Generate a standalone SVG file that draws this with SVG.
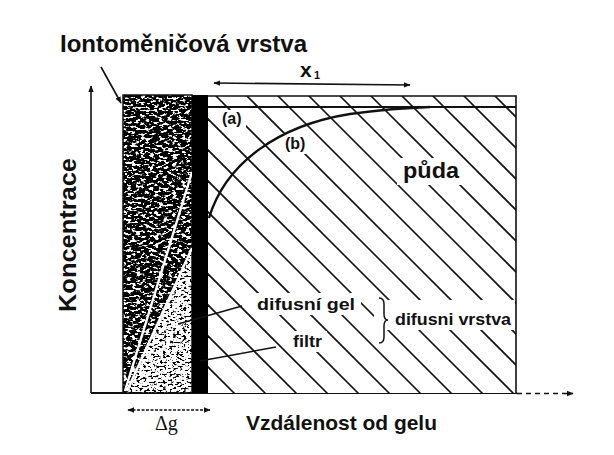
<svg xmlns="http://www.w3.org/2000/svg" width="614" height="455" viewBox="0 0 614 455">
<style>
.lbl{font-family:"Liberation Sans",Arial,sans-serif;font-weight:bold;fill:#111}
.ln{stroke:#111;fill:none}
.hatch line{stroke:#111;stroke-width:1.6}
.bg{fill:#fff}
</style>
<defs>
<marker id="ah" viewBox="0 0 10 10" refX="9" refY="5" markerWidth="7" markerHeight="7" markerUnits="userSpaceOnUse" orient="auto-start-reverse">
<path d="M0,1 L10,5 L0,9 Z" fill="#111"/>
</marker>
<filter id="fDark" x="0" y="0" width="1" height="1" color-interpolation-filters="sRGB">
<feTurbulence type="fractalNoise" baseFrequency="0.22 0.42" numOctaves="3" seed="7" result="n"/>
<feColorMatrix in="n" type="matrix" values="0 0 0 0 1  0 0 0 0 1  0 0 0 0 1  1 0 0 0 0" result="w"/>
<feComponentTransfer in="w" result="wt"><feFuncA type="linear" slope="12" intercept="-6.4"/></feComponentTransfer>
<feComposite in="wt" in2="SourceGraphic" operator="atop"/>
</filter>
<filter id="fLight" x="0" y="0" width="1" height="1" color-interpolation-filters="sRGB">
<feTurbulence type="fractalNoise" baseFrequency="0.3 0.5" numOctaves="3" seed="11" result="n"/>
<feColorMatrix in="n" type="matrix" values="0 0 0 0 0  0 0 0 0 0  0 0 0 0 0  1 0 0 0 0" result="k"/>
<feComponentTransfer in="k" result="kt"><feFuncA type="linear" slope="12" intercept="-6.5"/></feComponentTransfer>
<feComposite in="kt" in2="SourceGraphic" operator="atop"/>
</filter>
<clipPath id="soilClip"><rect x="208" y="96" width="308" height="297"/></clipPath>
</defs>
<rect width="614" height="455" fill="#fff"/>

<g id="axes">
<line class="ln" x1="91" y1="393" x2="91" y2="86" stroke-width="1.6" marker-end="url(#ah)"/>
<line class="ln" x1="91" y1="393" x2="517" y2="393" stroke-width="1.8"/>
<line class="ln" x1="517" y1="393.5" x2="573" y2="393.5" stroke-width="1.6" stroke-dasharray="5 4" marker-end="url(#ah)"/>
<text class="lbl" transform="translate(76,312) rotate(-90)" font-size="23" textLength="154" lengthAdjust="spacingAndGlyphs">Koncentrace</text>
<text class="lbl" x="246" y="430" font-size="21" textLength="191" lengthAdjust="spacingAndGlyphs">Vzdálenost od gelu</text>
</g>

<g id="soil">
<rect x="208" y="96" width="308" height="297" fill="#fff"/>
<g class="hatch" clip-path="url(#soilClip)">
<line x1="-64" y1="95" x2="236" y2="395"/>
<line x1="-33" y1="95" x2="267" y2="395"/>
<line x1="-2" y1="95" x2="298" y2="395"/>
<line x1="29" y1="95" x2="329" y2="395"/>
<line x1="60" y1="95" x2="360" y2="395"/>
<line x1="91" y1="95" x2="391" y2="395"/>
<line x1="122" y1="95" x2="422" y2="395"/>
<line x1="153" y1="95" x2="453" y2="395"/>
<line x1="184" y1="95" x2="484" y2="395"/>
<line x1="215" y1="95" x2="515" y2="395"/>
<line x1="246" y1="95" x2="546" y2="395"/>
<line x1="277" y1="95" x2="577" y2="395"/>
<line x1="308" y1="95" x2="608" y2="395"/>
<line x1="339" y1="95" x2="639" y2="395"/>
<line x1="370" y1="95" x2="670" y2="395"/>
<line x1="401" y1="95" x2="701" y2="395"/>
<line x1="432" y1="95" x2="732" y2="395"/>
<line x1="463" y1="95" x2="763" y2="395"/>
<line x1="494" y1="95" x2="794" y2="395"/>
</g>
<rect class="bg" x="219" y="110" width="27" height="19"/>
<rect class="bg" x="282" y="133" width="28" height="21"/>
<rect class="bg" x="397" y="158" width="66" height="27"/>
<rect class="bg" x="251" y="293" width="110" height="22"/>
<rect class="bg" x="287" y="331" width="40" height="21"/>
<rect class="bg" x="374" y="300" width="141" height="30"/>
<polyline class="ln" points="208,96 516,96 516,393" stroke-width="1.6"/>
<line class="ln" x1="208" y1="107" x2="516" y2="107" stroke-width="2.2"/>
<path class="ln" d="M209,218 C226,162 280,125 350,114 C380,110 400,108 430,107" stroke-width="2.4"/>
<text class="lbl" x="222" y="124" font-size="16">(a)</text>
<text class="lbl" x="285" y="149" font-size="16">(b)</text>
<text class="lbl" x="403" y="178" font-size="22" textLength="56" lengthAdjust="spacingAndGlyphs">půda</text>
</g>

<g id="gel">
<rect x="123" y="95" width="69" height="298" fill="#000" filter="url(#fDark)"/>
<polygon points="128,392 192,248 192,392" fill="#fff" filter="url(#fLight)"/>
<rect x="123" y="95" width="69" height="298" fill="none" stroke="#111" stroke-width="1.5"/>
<line x1="125" y1="391" x2="192" y2="172" stroke="#fff" stroke-width="2.4"/>
<line x1="127" y1="391" x2="192" y2="248" stroke="#fff" stroke-width="2.4"/>
</g>

<g id="filter">
<rect x="192" y="95" width="16" height="298" fill="#000"/>
</g>

<g id="connectors">
<line class="ln" x1="101" y1="67" x2="121" y2="103" stroke-width="1.6" marker-end="url(#ah)"/>
<line class="ln" x1="214" y1="83" x2="410" y2="85" stroke-width="1.6" marker-start="url(#ah)" marker-end="url(#ah)"/>
<line class="ln" x1="128" y1="410" x2="210" y2="410" stroke-width="1.3" stroke-dasharray="3 1.5" marker-start="url(#ah)" marker-end="url(#ah)"/>
<line class="ln" x1="242" y1="306" x2="178" y2="324" stroke-width="1.5"/>
<line class="ln" x1="276" y1="347" x2="200" y2="361" stroke-width="1.5"/>
<path class="ln" d="M379,298 Q384,298 384,304 L384,314 Q384,320 388,320 Q384,320 384,326 L384,337 Q384,343 379,343" stroke-width="1.5"/>
</g>

<g id="labels">
<text class="lbl" x="60" y="52" font-size="23.5" textLength="247" lengthAdjust="spacingAndGlyphs">Iontoměničová vrstva</text>
<text class="lbl" x="300" y="77" font-size="21">x</text>
<text class="lbl" x="314" y="79" font-size="11">1</text>
<text class="lbl" x="257" y="310" font-size="17" textLength="98" lengthAdjust="spacingAndGlyphs">difusní gel</text>
<text class="lbl" x="293" y="347" font-size="17" textLength="29" lengthAdjust="spacingAndGlyphs">filtr</text>
<text class="lbl" x="395" y="325" font-size="17" textLength="116" lengthAdjust="spacingAndGlyphs">difusni vrstva</text>
<text x="155" y="430" font-family="'Liberation Serif',serif" font-size="20" fill="#111">Δg</text>
</g>
</svg>
